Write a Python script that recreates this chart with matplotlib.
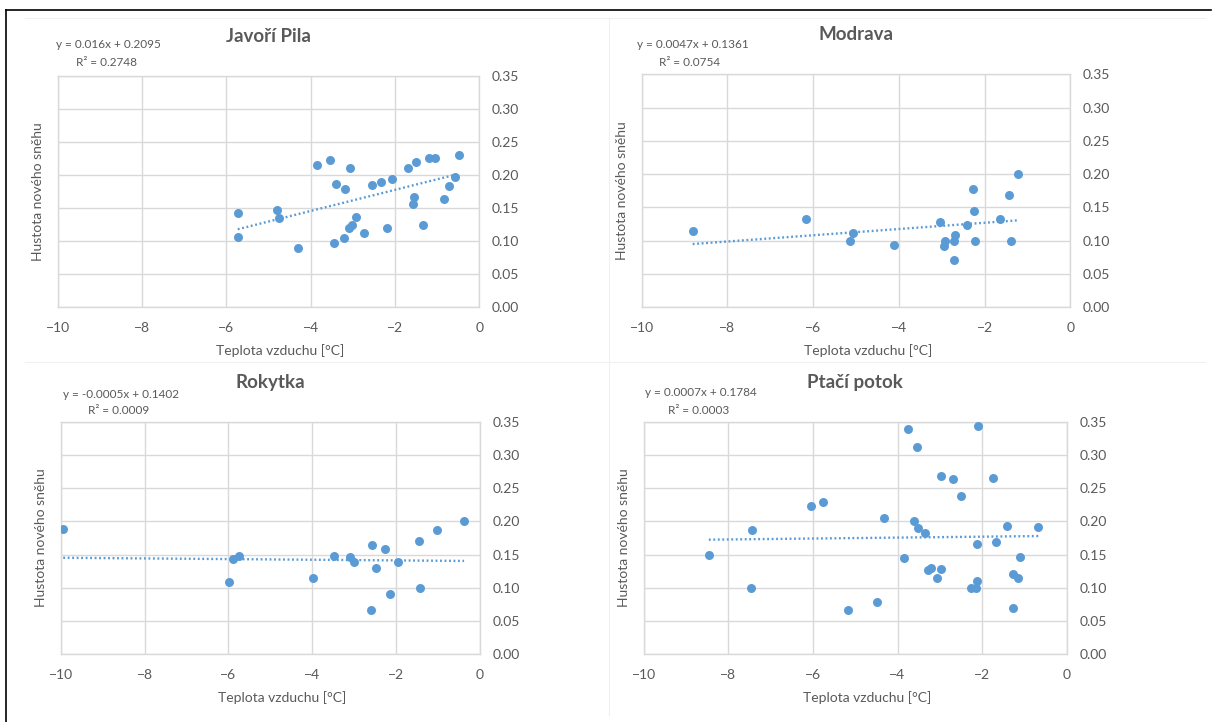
import matplotlib
matplotlib.use("Agg")
import matplotlib.pyplot as plt
from matplotlib.lines import Line2D
import numpy as np

plt.rcParams["font.family"] = ["Lato", "DejaVu Sans"]

# data
javori_x = [-5.72, -5.73, -4.81, -4.74, -4.30, -3.84, -3.55, -3.40, -3.45, -3.19, -3.20,
            -3.06, -3.09, -3.01, -2.92, -2.73, -2.55, -2.32, -2.19, -2.06, -1.68, -1.50,
            -1.54, -1.57, -1.34, -1.19, -1.04, -0.83, -0.73, -0.57, -0.47]
javori_y = [0.142, 0.106, 0.147, 0.135, 0.089, 0.215, 0.223, 0.187, 0.097, 0.179, 0.105,
            0.211, 0.120, 0.124, 0.136, 0.112, 0.185, 0.190, 0.120, 0.194, 0.211, 0.219,
            0.167, 0.156, 0.125, 0.226, 0.226, 0.164, 0.184, 0.197, 0.231]

modrava_x = [-8.81, -6.16, -5.06, -5.13, -4.11, -3.03, -2.93, -2.95, -2.71, -2.71, -2.68,
             -2.40, -2.26, -2.25, -2.23, -1.63, -1.42, -1.39, -1.21]
modrava_y = [0.115, 0.132, 0.111, 0.099, 0.093, 0.128, 0.100, 0.091, 0.070, 0.100, 0.109,
             0.123, 0.178, 0.145, 0.099, 0.133, 0.168, 0.099, 0.200]

rokytka_x = [-9.94, -5.98, -5.88, -5.75, -3.98, -3.49, -3.10, -3.01, -2.61, -2.58, -2.48,
             -2.27, -2.15, -1.96, -1.45, -1.43, -1.02, -0.38]
rokytka_y = [0.188, 0.108, 0.144, 0.148, 0.114, 0.148, 0.146, 0.139, 0.067, 0.164, 0.129,
             0.159, 0.091, 0.139, 0.170, 0.100, 0.187, 0.200]

ptaci_x = [-8.46, -7.43, -7.47, -6.04, -5.76, -5.17, -4.48, -4.32, -3.85, -3.75, -3.62,
           -3.55, -3.51, -3.36, -3.29, -3.20, -3.07, -2.96, -2.96, -2.68, -2.51, -2.27,
           -2.14, -2.12, -2.11, -2.09, -1.75, -1.68, -1.40, -1.26, -1.14, -1.26, -1.10, -0.67]
ptaci_y = [0.150, 0.187, 0.099, 0.223, 0.229, 0.067, 0.078, 0.205, 0.145, 0.339, 0.200,
           0.313, 0.190, 0.183, 0.126, 0.130, 0.115, 0.128, 0.268, 0.264, 0.238, 0.099,
           0.099, 0.110, 0.166, 0.344, 0.265, 0.169, 0.193, 0.120, 0.115, 0.069, 0.147, 0.191]

titles = ["Javoří Pila", "Modrava", "Rokytka", "Ptačí potok"]
slopes = [0.016, 0.0047, -0.0005, 0.0007]
intercepts = [0.2095, 0.1361, 0.1402, 0.1784]
eq_labels = ["y = 0.016x + 0.2095", "y = 0.0047x + 0.1361",
             "y = -0.0005x + 0.1402", "y = 0.0007x + 0.1784"]
r2_labels = ["R² = 0.2748", "R² = 0.0754", "R² = 0.0009", "R² = 0.0003"]

xs = [javori_x, modrava_x, rokytka_x, ptaci_x]
ys = [javori_y, modrava_y, rokytka_y, ptaci_y]

W, H = 1213, 722
# plot areas in pixels: left, top, right, bottom
boxes = [(57.7, 76, 479.3, 307), (641.7, 74.3, 1070.3, 307),
         (60.7, 422, 480, 654), (643.7, 422, 1066.7, 654)]
eq_pos = [(56, 44), (637, 44), (63, 394), (645, 392)]
r2_pos = [(76, 62), (659, 62), (88, 411), (668, 410)]

blue = "#5b9bd5"
grey = "#595959"
gridc = "#d9d9d9"

fig = plt.figure(figsize=(W / 100, H / 100), dpi=100)

# outer frame (top and left) and faint separators
fig.add_artist(Line2D([6 / W, 1211 / W], [1 - 10 / H, 1 - 10 / H], color="black", lw=1.2))
fig.add_artist(Line2D([6 / W, 6 / W], [1 - 10 / H, 0], color="black", lw=1.2))
fig.add_artist(Line2D([25 / W, 1205 / W], [1 - 18 / H, 1 - 18 / H], color="#f0f0f0", lw=0.8))
fig.add_artist(Line2D([25 / W, 1205 / W], [1 - 362 / H, 1 - 362 / H], color="#f0f0f0", lw=0.8))
fig.add_artist(Line2D([609 / W, 609 / W], [1 - 18 / H, 1 - 715 / H], color="#f0f0f0", lw=0.8))

for i in range(4):
    l, t, r, b = boxes[i]
    ax = fig.add_axes([l / W, 1 - b / H, (r - l) / W, (b - t) / H])
    x = np.array(xs[i])
    y = np.array(ys[i])
    ax.scatter(x, y, s=42, color=blue, zorder=3, linewidths=0)
    xl = np.array([x.min(), x.max()])
    ax.plot(xl, slopes[i] * xl + intercepts[i], color=blue, lw=1.7,
            linestyle=(0, (0.8, 1.1)), zorder=2)
    ax.set_xlim(-10, 0)
    ax.set_ylim(0, 0.35)
    ax.set_xticks([-10, -8, -6, -4, -2, 0])
    ax.set_yticks([0, 0.05, 0.10, 0.15, 0.20, 0.25, 0.30, 0.35])
    ax.set_yticklabels(["%.2f" % v for v in ax.get_yticks()])
    ax.yaxis.tick_right()
    ax.tick_params(length=0, colors=grey, labelsize=10)
    ax.tick_params(axis="y", pad=9)
    ax.tick_params(axis="x", pad=11)
    ax.grid(True, color=gridc, lw=1)
    ax.set_axisbelow(True)
    for s in ax.spines.values():
        s.set_color(gridc)
        s.set_linewidth(1)

    cx = (l + r) / 2
    fig.text(cx / W, 1 - (t - 40) / H, titles[i], ha="center", va="center",
             fontsize=13.5, fontweight="bold", color=grey)
    fig.text(eq_pos[i][0] / W, 1 - eq_pos[i][1] / H, eq_labels[i], ha="left",
             va="center", fontsize=8.5, color=grey)
    fig.text(r2_pos[i][0] / W, 1 - r2_pos[i][1] / H, r2_labels[i], ha="left",
             va="center", fontsize=8.5, color=grey)
    fig.text((l - 20) / W, 1 - ((t + b) / 2) / H, "Hustota nového sněhu",
             rotation=90, ha="center", va="center", fontsize=10, color=grey)
    fig.text((cx + 12) / W, 1 - (b + 44) / H, "Teplota vzduchu [°C]",
             ha="center", va="center", fontsize=10, color=grey)

fig.savefig("out.png", dpi=100, facecolor="white")
